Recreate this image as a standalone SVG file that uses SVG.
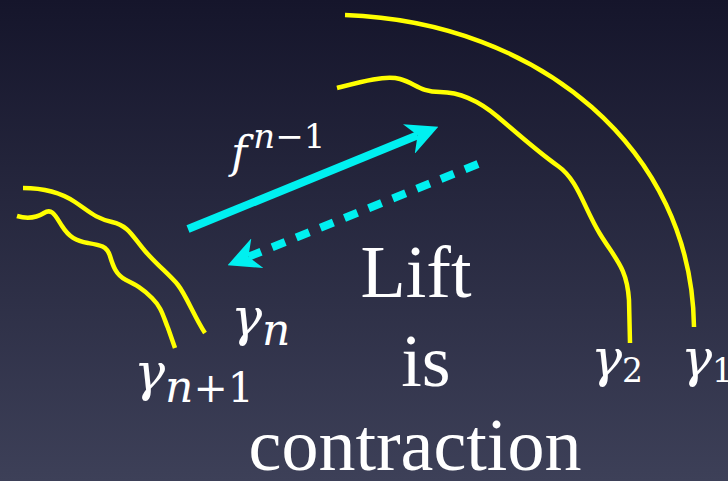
<svg xmlns="http://www.w3.org/2000/svg" width="728" height="481" viewBox="0 0 728 481">
  <defs>
    <linearGradient id="bg" x1="0" y1="0" x2="0" y2="1">
      <stop offset="0" stop-color="#15152b"/>
      <stop offset="1" stop-color="#3d4058"/>
    </linearGradient>
    <marker id="head" viewBox="0 0 10 10" refX="3" refY="5" markerWidth="4" markerHeight="4" markerUnits="strokeWidth" orient="auto">
      <path d="M0,0 L10,5 L0,10 L3,5 Z" fill="#00f0f0"/>
    </marker>
    <style>
      .curve { fill: none; stroke: #ffff00; stroke-width: 4.5; stroke-linecap: butt; stroke-linejoin: round; }
      .arrow { fill: none; stroke: #00f0f0; stroke-width: 8; }
      .dash { stroke-dasharray: 14 12; }
      .math { font-family: "DejaVu Serif", "Liberation Serif", serif; font-style: italic; fill: #ffffff; }
      .digit { font-family: "DejaVu Serif", "Liberation Serif", serif; font-style: normal; fill: #ffffff; }
      .big { font-family: "Liberation Serif", "DejaVu Serif", serif; font-size: 74px; fill: #ffffff; text-anchor: middle; }
    </style>
  </defs>
  <rect x="0" y="0" width="728" height="481" fill="url(#bg)"/>

  <g id="gamma1">
    <path class="curve" d="M345,15 C540,22 692,150 694,327"/>
    <text class="math" x="681" y="376" font-size="52">γ<tspan class="digit" font-size="33" dy="6">1</tspan></text>
  </g>

  <g id="gamma2">
    <path class="curve" d="M337,88 C360,82 385,75 400,79 S420,92 440,92 S478,100 498,117 S538,152 558,166 S584,208 600,234 S627,268 629,300 L630,343"/>
    <text class="math" x="591" y="376" font-size="52">γ<tspan class="digit" font-size="33" dy="6">2</tspan></text>
  </g>

  <g id="gamma-n">
    <path class="curve" d="M23,188 C40,188 60,192 75,202 S95,218 112,222 S132,236 145,251 S170,275 178,285 S195,318 205,333"/>
    <text class="math" x="231" y="335" font-size="52">γ<tspan font-size="44" dy="10">n</tspan></text>
  </g>

  <g id="gamma-n1">
    <path class="curve" d="M17,216 C27,219 36,218 44,213 S55,215 62,226 S76,241 88,243 S107,246 110,256 S116,275 126,280 S142,288 152,298 S163,316 168,328 L175,348"/>
    <text class="math" x="134" y="390" font-size="52">γ<tspan font-size="44" dy="12">n</tspan><tspan class="digit" font-size="41">+1</tspan></text>
  </g>

  <g id="connectors">
    <line class="arrow" x1="188" y1="229" x2="417.6" y2="135.3" marker-end="url(#head)"/>
    <line class="arrow dash" x1="478" y1="164" x2="248.4" y2="256.8" marker-end="url(#head)"/>
  </g>

  <g id="label-f">
    <text class="math" x="231" y="168" font-size="44">f<tspan font-size="34" dx="6" dy="-20">n</tspan><tspan class="digit" font-size="34">−1</tspan></text>
  </g>

  <g id="caption">
    <text class="big" x="416" y="297">Lift</text>
    <text class="big" x="426" y="386">is</text>
    <text class="big" x="415" y="470">contraction</text>
  </g>
</svg>
